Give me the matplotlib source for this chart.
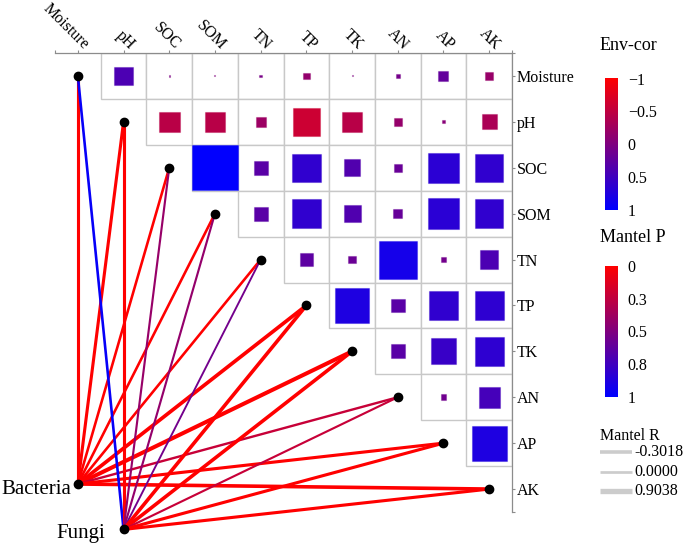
import numpy as np
import matplotlib
matplotlib.use("Agg")
import matplotlib.pyplot as plt
from matplotlib.colors import LinearSegmentedColormap, Normalize
from matplotlib.patches import Rectangle
from matplotlib.lines import Line2D

plt.rcParams['font.family'] = ['Liberation Serif', 'DejaVu Serif']

# ---------------- data ----------------
env = ['Moisture', 'pH', 'SOC', 'SOM', 'TN', 'TP', 'TK', 'AN', 'AP', 'AK']

# upper-triangle correlations, row i lists columns i+1 .. 9
cor_moisture = [0.40, 0.03, -0.02, 0.06, -0.15, 0.02, 0.08, 0.22, -0.18]
cor_ph = [-0.45, -0.44, -0.22, -0.60, -0.44, -0.17, -0.07, -0.33]
cor_soc = [0.99, 0.30, 0.62, 0.36, 0.18, 0.66, 0.62]
cor_som = [0.30, 0.62, 0.37, 0.20, 0.67, 0.62]
cor_tn = [0.27, 0.17, 0.83, 0.10, 0.40]
cor_tp = [0.76, 0.30, 0.62, 0.64]
cor_tk = [0.30, 0.56, 0.64]
cor_an = [0.12, 0.46]
cor_ap = [0.76]
cor_rows = [cor_moisture, cor_ph, cor_soc, cor_som, cor_tn, cor_tp, cor_tk, cor_an, cor_ap, []]

groups = ['Bacteria', 'Fungi']
mantel_bac_r = [0.50, 0.50, 0.29, 0.29, 0.29, 0.75, 0.9038, 0.20, 0.50, 0.71]
mantel_bac_p = [0.001, 0.001, 0.001, 0.001, 0.002, 0.001, 0.001, 0.22, 0.001, 0.001]
mantel_fun_r = [-0.3018, 0.50, 0.10, 0.10, 0.00, 0.71, 0.71, 0.10, 0.50, 0.50]
mantel_fun_p = [0.97, 0.001, 0.41, 0.42, 0.55, 0.001, 0.001, 0.22, 0.001, 0.001]

envcor_ticks = [-1, -0.5, 0, 0.5, 1]
envcor_labels = ['\u22121', '\u22120.5', '0', '0.5', '1']
mantelp_ticks = [0, 0.25, 0.5, 0.75, 1]
mantelp_labels = ['0', '0.3', '0.5', '0.8', '1']
mantelr_keys = [-0.3018, 0.0, 0.9038]
mantelr_labels = ['-0.3018', '0.0000', '0.9038']

# ---------------- style / layout ----------------
W, H = 685, 545
cmap = LinearSegmentedColormap.from_list('rb', ['#FF0000', '#0000FF'])
norm_cor = Normalize(-1, 1)
norm_p = Normalize(0, 1)
group_pos = {'Bacteria': (0.0, 8.89), 'Fungi': (1.0, 9.88)}
group_text_off = {'Bacteria': (-4.8, -7.0), 'Fungi': (-13.2, -6.3)}


def width_pt(r):
    return (1.9 + 2.4 * abs(r)) * 0.72


def key_width_pt(r):
    return (2.7 + 2.9 * abs(r)) * 0.72


fig = plt.figure(figsize=(W / 100, H / 100), dpi=100)
ax = fig.add_axes([55 / W, 1 - 512 / H, (512 - 55) / W, (512 - 53) / H])
n = len(env)
ax.set_xlim(-0.5, n - 0.5)
ax.set_ylim(n - 0.5, -0.5)

for s in ['left', 'bottom']:
    ax.spines[s].set_visible(False)
for s in ['top', 'right']:
    ax.spines[s].set_color('#8c8c8c')
    ax.spines[s].set_linewidth(0.9)

ax.xaxis.tick_top()
ax.yaxis.tick_right()
ax.set_xticks(range(n))
ax.set_yticks(range(n))
ax.set_xticks([-0.5, n - 0.5], minor=True)
ax.set_yticks([-0.5, n - 0.5], minor=True)
ax.set_xticklabels([''] * n)
ax.set_yticklabels(env, fontsize=11.5)
ax.tick_params(which='both', direction='out', length=2.5, width=0.8, color='#8c8c8c', pad=1)

for j, lab in enumerate(env):
    ax.annotate(lab, xy=(j, 1.0), xycoords=('data', 'axes fraction'),
                xytext=(4.0, 2.0), textcoords='offset points',
                rotation=-45, ha='right', va='baseline', rotation_mode='anchor',
                fontsize=11.5, annotation_clip=False)

# cells and squares
for i, row in enumerate(cor_rows):
    for k, r in enumerate(row):
        j = i + 1 + k
        ax.add_patch(Rectangle((j - 0.5, i - 0.5), 1, 1, facecolor='white',
                               edgecolor='#c8c8c8', lw=1.0, zorder=1))
        c = cmap(norm_cor(r))
        s = abs(r)
        ax.add_patch(Rectangle((j - s / 2, i - s / 2), s, s, facecolor=c,
                               edgecolor=(c[0], c[1], c[2], 0.35), lw=0.8, zorder=2))

# mantel links
mantel = {'Bacteria': (mantel_bac_r, mantel_bac_p), 'Fungi': (mantel_fun_r, mantel_fun_p)}
for g in groups:
    gx, gy = group_pos[g]
    rs, ps = mantel[g]
    for i in range(n):
        ax.plot([gx, i], [gy, i], color=cmap(norm_p(ps[i])), lw=width_pt(rs[i]),
                solid_capstyle='butt', zorder=3, clip_on=False)

for g in groups:
    gx, gy = group_pos[g]
    ax.plot([gx], [gy], 'o', color='black', ms=6, zorder=5, clip_on=False)
    ax.annotate(g, xy=(gx, gy), xytext=group_text_off[g], textcoords='offset points',
                ha='right', va='baseline', fontsize=15, annotation_clip=False)
ax.plot(range(n), range(n), 'o', color='black', ms=6, zorder=5, clip_on=False, ls='none')

# ---------------- legends ----------------
grad = np.linspace(0, 1, 256)[:, None]

# Env-cor colorbar
fig.text(600 / W, 1 - 45 / H, 'Env-cor', fontsize=13, ha='left', va='center')
cax1 = fig.add_axes([605 / W, 1 - 212 / H, 13 / W, 142 / H])
cax1.imshow(np.linspace(-1, 1, 256)[:, None], extent=[0, 1, 1, -1], aspect='auto',
            cmap=cmap, norm=norm_cor)
cax1.set_xlim(0, 1)
cax1.set_ylim(1.03, -1.13)
cax1.set_xticks([])
cax1.yaxis.tick_right()
cax1.set_yticks(envcor_ticks)
cax1.set_yticklabels(envcor_labels, fontsize=11.5)
cax1.tick_params(length=0, pad=7)
for s in cax1.spines.values():
    s.set_visible(False)

# Mantel P colorbar
fig.text(600 / W, 1 - 238 / H, 'Mantel P', fontsize=13, ha='left', va='center')
cax2 = fig.add_axes([605 / W, 1 - 398 / H, 13 / W, 140 / H])
cax2.imshow(grad, extent=[0, 1, 1, 0], aspect='auto', cmap=cmap, norm=norm_p)
cax2.set_xlim(0, 1)
cax2.set_ylim(1.008, -0.061)
cax2.set_xticks([])
cax2.yaxis.tick_right()
cax2.set_yticks(mantelp_ticks)
cax2.set_yticklabels(mantelp_labels, fontsize=11.5)
cax2.tick_params(length=0, pad=7)
for s in cax2.spines.values():
    s.set_visible(False)

# Mantel R size legend
fig.text(600 / W, 1 - 436 / H, 'Mantel R', fontsize=11.5, ha='left', va='center')
key_y = [452, 472, 491]
for r, lab, yk in zip(mantelr_keys, mantelr_labels, key_y):
    fig.add_artist(Line2D([600 / W, 632 / W], [1 - yk / H, 1 - yk / H],
                          color='#cccccc', lw=key_width_pt(r), solid_capstyle='butt'))
    fig.text(634 / W, 1 - yk / H, lab, fontsize=11.5, ha='left', va='center')

fig.savefig('out.png', dpi=100)
